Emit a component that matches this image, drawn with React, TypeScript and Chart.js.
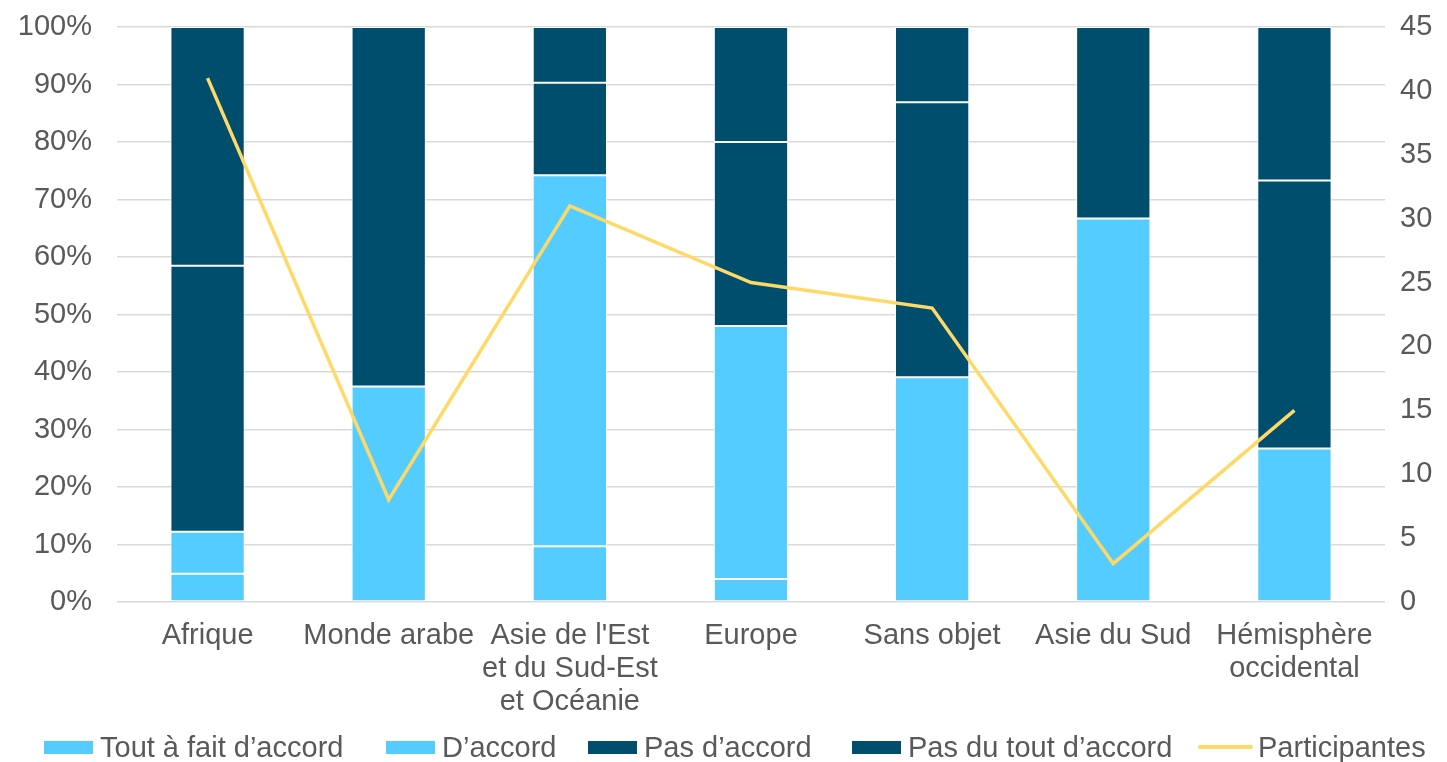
import React, { useEffect, useRef } from "react";
import { Chart, registerables } from "chart.js";

Chart.register(...registerables);

const categories: (string | string[])[] = [
  "Afrique",
  "Monde arabe",
  ["Asie de l'Est", "et du Sud-Est", "et Océanie"],
  "Europe",
  "Sans objet",
  "Asie du Sud",
  ["Hémisphère", "occidental"],
];

const toutAFait = [4.9, 0, 9.7, 4, 0, 0, 0];
const dAccord = [7.3, 37.5, 64.5, 44, 39.1, 66.7, 26.7];
const pasDAccord = [46.3, 62.5, 16.1, 32, 47.8, 0, 46.6];
const pasDuTout = [41.5, 0, 9.7, 20, 13.1, 33.3, 26.7];
const participantes = [41, 8, 31, 25, 23, 3, 15];

const seriesNames = [
  "Tout à fait d’accord",
  "D’accord",
  "Pas d’accord",
  "Pas du tout d’accord",
  "Participantes",
];

const LIGHT = "#55CCFF";
const DARK = "#004E6E";
const LINE = "#FFD966";
const TEXT = "#595959";
const FONT = "'Liberation Sans', Arial, sans-serif";

export default function App() {
  const ref = useRef<HTMLCanvasElement | null>(null);

  useEffect(() => {
    document.body.style.margin = "0";
    if (!ref.current) return;
    const barBase = {
      type: "bar" as const,
      borderColor: "#ffffff",
      borderWidth: 1,
      borderSkipped: false as const,
      stack: "s",
      yAxisID: "y",
      order: 1,
      barPercentage: 0.41,
      categoryPercentage: 1,
    };
    const chart = new Chart(ref.current, {
      type: "bar",
      data: {
        labels: categories as any,
        datasets: [
          {
            type: "line",
            label: seriesNames[4],
            data: participantes,
            borderColor: LINE,
            backgroundColor: LINE,
            borderWidth: 3.5,
            pointRadius: 0,
            tension: 0,
            yAxisID: "y1",
            order: 0,
          } as any,
          { ...barBase, label: seriesNames[0], data: toutAFait, backgroundColor: LIGHT },
          { ...barBase, label: seriesNames[1], data: dAccord, backgroundColor: LIGHT },
          { ...barBase, label: seriesNames[2], data: pasDAccord, backgroundColor: DARK },
          { ...barBase, label: seriesNames[3], data: pasDuTout, backgroundColor: DARK },
        ],
      },
      options: {
        animation: false,
        responsive: false,
        maintainAspectRatio: false,
        layout: { padding: { top: 27, bottom: 40, left: 0, right: 0 } },
        plugins: {
          legend: { display: false },
          tooltip: { enabled: false },
        },
        scales: {
          x: {
            stacked: true,
            grid: { display: false, drawTicks: false },
            border: { display: false },
            ticks: {
              color: TEXT,
              font: { family: FONT, size: 29, lineHeight: 1.15 },
              padding: 17,
              maxRotation: 0,
              autoSkip: false,
            },
            afterFit: (s: any) => {
              s.height = 120;
            },
          },
          y: {
            stacked: true,
            position: "left",
            min: 0,
            max: 100,
            grid: { color: "#D9D9D9", lineWidth: 1.5, drawTicks: false },
            border: { display: false },
            ticks: {
              stepSize: 10,
              color: TEXT,
              font: { family: FONT, size: 29 },
              padding: 25,
              callback: (v: any) => v + "%",
            },
            afterFit: (s: any) => {
              s.width = 117;
              s.paddingTop = 0;
              s.paddingBottom = 0;
            },
          },
          y1: {
            position: "right",
            min: 0,
            max: 45,
            grid: { display: false, drawTicks: false },
            border: { display: false },
            ticks: {
              stepSize: 5,
              color: TEXT,
              font: { family: FONT, size: 29 },
              padding: 15,
            },
            afterFit: (s: any) => {
              s.width = 62;
              s.paddingTop = 0;
              s.paddingBottom = 0;
            },
          },
        },
      },
    });
    return () => chart.destroy();
  }, []);

  const legendItems = [
    { left: 44, color: LIGHT, line: false },
    { left: 386, color: LIGHT, line: false },
    { left: 588, color: DARK, line: false },
    { left: 852, color: DARK, line: false },
    { left: 1198, color: LINE, line: true },
  ];

  return (
    <div style={{ position: "relative", width: 1447, height: 762, background: "#fff" }}>
      <canvas ref={ref} width={1447} height={762} style={{ display: "block" }} />
      {legendItems.map((it, i) => (
        <div
          key={i}
          style={{
            position: "absolute",
            left: it.left,
            top: 730,
            height: 34,
            display: "flex",
            alignItems: "center",
            fontFamily: FONT,
            fontSize: 29,
            color: TEXT,
            whiteSpace: "nowrap",
          }}
        >
          {it.line ? (
            <span
              style={{
                display: "inline-block",
                width: 55,
                height: 4,
                borderRadius: 2,
                background: it.color,
                marginRight: 5,
              }}
            />
          ) : (
            <span
              style={{
                display: "inline-block",
                width: 49,
                height: 13,
                background: it.color,
                marginRight: 7,
              }}
            />
          )}
          <span>{seriesNames[i]}</span>
        </div>
      ))}
    </div>
  );
}
